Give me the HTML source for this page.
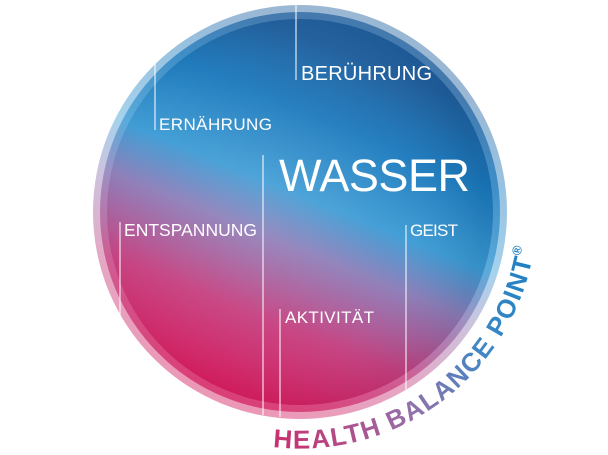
<!DOCTYPE html>
<html><head><meta charset="utf-8"><style>
html,body{margin:0;padding:0;background:#fff;width:608px;height:455px;overflow:hidden}
svg{display:block}
</style></head><body>
<svg width="608" height="455" viewBox="0 0 608 455" xmlns="http://www.w3.org/2000/svg">
<defs>
<linearGradient id="g" x1="0.3" y1="0.95" x2="0.65" y2="0.1">
<stop offset="0" stop-color="#d3195c"/>
<stop offset="0.22" stop-color="#c53d7e"/>
<stop offset="0.44" stop-color="#8a7cb8"/>
<stop offset="0.58" stop-color="#3a9ad4"/>
<stop offset="0.8" stop-color="#1a78bc"/>
<stop offset="1" stop-color="#1f5f9e"/>
</linearGradient>
<radialGradient id="hl" cx="0.42" cy="0.5" r="0.55">
<stop offset="0" stop-color="#fff" stop-opacity="0.12"/>
<stop offset="0.7" stop-color="#fff" stop-opacity="0.04"/>
<stop offset="1" stop-color="#000" stop-opacity="0.06"/>
</radialGradient>
<linearGradient id="tg" x1="270" y1="440" x2="530" y2="250" gradientUnits="userSpaceOnUse">
<stop offset="0" stop-color="#cc2d6c"/>
<stop offset="0.4" stop-color="#9470aa"/>
<stop offset="0.7" stop-color="#3e88c6"/>
<stop offset="1" stop-color="#1c80c2"/>
</linearGradient>
</defs>
<circle cx="300" cy="212" r="207" fill="url(#g)" opacity="0.45"/>
<circle cx="300" cy="212" r="200" fill="url(#g)" opacity="0.7"/>
<circle cx="300" cy="212" r="193" fill="url(#g)"/>
<circle cx="300" cy="212" r="193" fill="url(#hl)"/>
<g stroke="#fff" stroke-width="1.2" opacity="0.85">
<line x1="296" y1="3" x2="296" y2="80"/>
<line x1="155" y1="60" x2="155" y2="130"/>
<line x1="263" y1="155" x2="263" y2="415"/>
<line x1="120" y1="222" x2="120" y2="320"/>
<line x1="406" y1="225" x2="406" y2="390"/>
<line x1="280" y1="309" x2="280" y2="417"/>
</g>
<g fill="#fff" font-family="Liberation Sans, sans-serif">
<text x="301" y="80" font-size="20" textLength="131">BERÜHRUNG</text>
<text x="159" y="130" font-size="17" textLength="113">ERNÄHRUNG</text>
<text x="279" y="191" font-size="45" textLength="191">WASSER</text>
<text x="124" y="236" font-size="17.5" textLength="133">ENTSPANNUNG</text>
<text x="410" y="236" font-size="17" textLength="48">GEIST</text>
<text x="285" y="323" font-size="17" textLength="89">AKTIVITÄT</text>
</g>
<path id="arc" d="M273,447 A237,237 0 0 0 537,212" fill="none"/>
<text font-family="Liberation Sans, sans-serif" font-weight="bold" font-size="26" fill="url(#tg)"><textPath href="#arc" textLength="362" lengthAdjust="spacing">HEALTH BALANCE POINT<tspan font-size="13" dy="-12">®</tspan></textPath></text>
</svg>
</body></html>
